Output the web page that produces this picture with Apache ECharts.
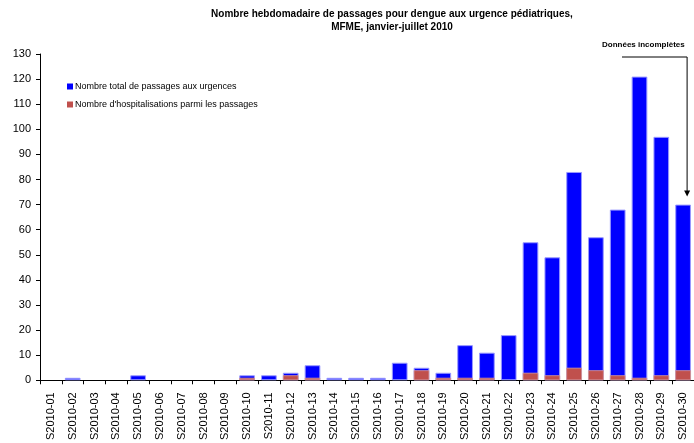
<!DOCTYPE html>
<html><head><meta charset="utf-8">
<script src="https://cdn.jsdelivr.net/npm/echarts@6/dist/echarts.min.js"></script>
<style>html,body{margin:0;padding:0;background:#fff}#c{width:694px;height:443px}</style>
</head><body><div id="c"></div>
<script>
const categories = ["S2010-01","S2010-02","S2010-03","S2010-04","S2010-05","S2010-06","S2010-07","S2010-08","S2010-09","S2010-10","S2010-11","S2010-12","S2010-13","S2010-14","S2010-15","S2010-16","S2010-17","S2010-18","S2010-19","S2010-20","S2010-21","S2010-22","S2010-23","S2010-24","S2010-25","S2010-26","S2010-27","S2010-28","S2010-29","S2010-30"];
const totalPassages = [0,1,0,0,2,0,0,0,0,2,2,3,6,1,1,1,7,5,3,14,11,18,55,49,83,57,68,121,97,70];
const hospitalisations = [0,0,0,0,0,0,0,0,0,1,0,2,1,0,0,0,0,4,1,1,1,0,3,2,5,4,2,1,2,4];
const seriesNames = ["Nombre total de passages aux urgences","Nombre d'hospitalisations parmi les passages"];
const titleText = "Nombre hebdomadaire de passages pour dengue aux urgence pédiatriques,\nMFME, janvier-juillet 2010";
const annotationText = "Données incomplètes";

const FONT = "Liberation Sans, Arial, sans-serif";
const noZero = arr => arr.map(v => v === 0 ? '-' : v);
const chart = echarts.init(document.getElementById('c'));
chart.setOption({
  animation:false,
  textStyle:{fontFamily:FONT},
  title:{text:titleText,left:387,textAlign:'center',top:3,
    textStyle:{fontSize:10,fontWeight:'bold',color:'#000',lineHeight:13,fontFamily:FONT}},
  legend:{orient:'vertical',left:62,top:77,itemWidth:6,itemHeight:6,itemGap:9,icon:'rect',
    itemStyle:{borderWidth:0},
    textStyle:{fontSize:9,color:'#000',fontFamily:FONT,padding:[0,0,0,-3]},
    data:seriesNames},
  grid:{left:40,right:0,top:54,bottom:62,containLabel:false},
  xAxis:{type:'category',data:categories,
    axisLine:{lineStyle:{color:'#000',width:1}},
    axisTick:{show:true,alignWithLabel:false,length:4,lineStyle:{color:'#000'}},
    axisLabel:{rotate:90,fontSize:11,color:'#000',margin:12,interval:0,fontFamily:FONT}},
  yAxis:{type:'value',min:0,max:130,interval:10,
    axisLine:{show:true,lineStyle:{color:'#000'}},
    axisTick:{show:true,length:4,lineStyle:{color:'#000'}},
    splitLine:{show:false},
    axisLabel:{fontSize:11,color:'#000',margin:9,fontFamily:FONT}},
  series:[
    {name:seriesNames[0],type:'bar',data:noZero(totalPassages),barWidth:'72%',barGap:'-100%',
      itemStyle:{color:'#0000FF',borderColor:'#9999ff',borderWidth:1}},
    {name:seriesNames[1],type:'bar',data:noZero(hospitalisations),barWidth:'72%',barGap:'-100%',
      itemStyle:{color:'#C0504D',borderColor:'#d99a98',borderWidth:0.8}}
  ]
});
// annotation pointing to last (incomplete) week
const last = categories.length-1;
const p = chart.convertToPixel({xAxisIndex:0,yAxisIndex:0},[last,totalPassages[last]]);
const ax = p[0]+4, tipY = p[1]-8;
chart.setOption({graphic:[
  {type:'text',left:602,top:41,style:{text:annotationText,font:'bold 8px '+FONT,fill:'#000'}},
  {type:'polyline',shape:{points:[[622,57],[ax,57],[ax,tipY-5]]},style:{stroke:'#000',lineWidth:1,fill:null}},
  {type:'polygon',shape:{points:[[ax-3,tipY-6],[ax+3,tipY-6],[ax,tipY]]},style:{fill:'#000'}}
]});
</script></body></html>
